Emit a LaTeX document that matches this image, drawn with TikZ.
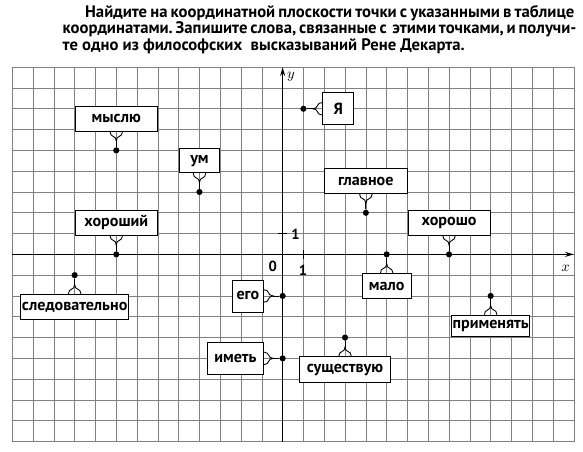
\documentclass[tikz,border=0pt]{standalone}
\usepackage{fontspec}
\setmainfont{PT Sans}
\usetikzlibrary{arrows.meta,calc}

\begin{document}
\begin{tikzpicture}
[x=0.5cm,y=0.5cm,
  gridLine/.style={black!50,line width=0.4pt},
  axisLine/.style={line width=1.1pt,-{Stealth[length=6pt,width=3.4pt]}},
  tickLine/.style={line width=0.8pt},
  dotDecorate/.style={shape=circle,fill,inner sep=0pt,minimum size=4.2pt},
  wordDecorate/.style={draw,fill=white,line width=0.6pt,inner sep=0pt,
    font=\fontsize{11}{13}\selectfont\bfseries},
  wordBrace/.pic={
    \draw[line width=0.6pt] (-0.3,0) .. controls (-0.3,-0.3) and (0,-0.15) .. (0,-0.45)
      .. controls (0,-0.15) and (0.3,-0.3) .. (0.3,0);
    \coordinate (-tip) at (0,-0.45);
  }]
\useasboundingbox (-13.59,-9.5) rectangle (14.44,12.23);
%% task text
\node[anchor=north west,inner sep=0pt,align=left,
  font=\fontsize{11.4}{11.5}\selectfont\bfseries\frenchspacing] (task) at (-10.59,12.0)
  {\hspace*{0.54cm}\makebox[11.76cm][s]{Найдите на координатной плоскости точки с указанными в таблице}\\
   \makebox[12.27cm][s]{координатами. Запишите слова, связанные с \ этими точками, и получи-}\\
   те одно из философских \ высказываний Рене Декарта.};
%% grid and axes
\draw[gridLine,xstep=0.5cm,ystep=0.5cm] (-13,-9) grid (14,9);
\coordinate (xstart) at (-13,0);
\coordinate (xend) at (14,0);
\coordinate (ystart) at (0,-9);
\coordinate (yend) at (0,9);
\draw[axisLine] (xstart) -- (xend);
\draw[axisLine] (ystart) -- (yend);
\draw[tickLine] (1,-0.2) -- (1,0.2);
\draw[tickLine] (-0.2,1) -- (0.2,1);
\node (xlabel) at (13.6,-0.66) {$x$};
\node (ylabel) at (0.4,8.55) {$y$};
\node[font=\bfseries] (zero) at (-0.47,-0.56) {0};
\node[font=\bfseries] (xone) at (0.98,-0.75) {1};
\node[font=\bfseries] (yone) at (0.62,0.98) {1};
%% points and words
\foreach \nm/\x/\y/\anc/\rot/\w/\h/\word in {
  mysl/-8/5/south/0/1.97/0.6/мыслю, um/-4/3/south/0/0.94/0.58/ум,
  horoshij/-8/0/south/0/1.97/0.6/хороший, ya/1/7/west/-90/0.75/0.77/Я,
  glavnoe/4/2/south/0/2.0/0.6/главное, horosho/8/0/south/0/1.97/0.6/хорошо,
  sledov/-10/-1/north/180/2.6/0.6/следовательно, ego/0/-2/east/90/0.75/0.77/его,
  imet/0/-5/east/90/1.35/0.77/иметь, malo/5/0/north/180/1.18/0.6/мало,
  sushch/3/-4/north/180/2.19/0.62/существую, primen/10/-2/north/180/1.87/0.52/применять}
{
  \node[dotDecorate] (d\nm) at (\x,\y) {};
  \node[wordDecorate,anchor=\anc,minimum width=\w cm,minimum height=\h cm]
    (w\nm) at ($(d\nm)+(\rot+90:0.9)$) {\word};
  \pic[rotate=\rot] (b\nm) at (w\nm.\anc) {wordBrace};
  \draw[line width=0.6pt] (b\nm-tip) -- (d\nm);
}
\end{tikzpicture}
\end{document}
